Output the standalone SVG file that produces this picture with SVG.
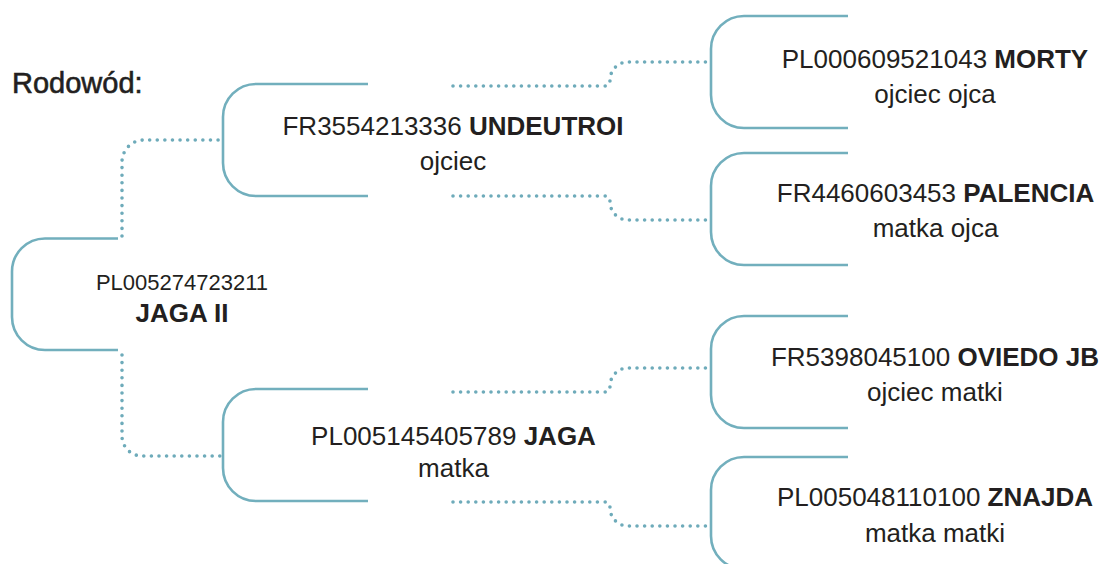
<svg xmlns="http://www.w3.org/2000/svg" width="1103" height="564" viewBox="0 0 1103 564">
<style>
.br{fill:none;stroke:#72afbd;stroke-width:2.6}
.dot{fill:none;stroke:#6eabba;stroke-width:3.6;stroke-linecap:round;stroke-dasharray:0 7.6}
text{font-family:"Liberation Sans",Arial,sans-serif;fill:#231f20;text-anchor:middle}
.t{font-size:26px}
.b{font-weight:bold}
</style>
<rect width="1103" height="564" fill="#ffffff"/>
<text x="12" y="93" style="font-size:29px;text-anchor:start;stroke:#231f20;stroke-width:0.6">Rodowód:</text>
<g id="connectors">
<path class="dot" d="M122 236 V162 A22 22 0 0 1 144 140 H221"/>
<path class="dot" d="M122 355 V436 A20 20 0 0 0 142 456 H222"/>
<path class="dot" d="M453 86 H604 Q610 86 610 80 A18 18 0 0 1 628 62 H710"/>
<path class="dot" d="M453 196 H604 Q610 196 610 202 A18 18 0 0 0 628 220 H710"/>
<path class="dot" d="M453 392 H604 Q610 392 610 386 A18 18 0 0 1 628 368 H710"/>
<path class="dot" d="M453 502 H604 Q610 502 610 508 A18 18 0 0 0 628 526 H710"/>
</g>
<g id="root">
<path class="br" d="M118 238.5 H45 A33 33 0 0 0 12 271.5 V317 A33 33 0 0 0 45 350 H118"/>
<text x="182" y="289.5" style="font-size:22px">PL005274723211</text>
<text x="182" y="322" class="b" style="font-size:26px">JAGA II</text>
</g>
<g id="father">
<path class="br" d="M368 84 H256 A33 33 0 0 0 223 117 V163 A33 33 0 0 0 256 196 H368"/>
<text x="453" y="135" class="t">FR3554213336 <tspan class="b">UNDEUTROI</tspan></text>
<text x="453" y="170" class="t">ojciec</text>
</g>
<g id="mother">
<path class="br" d="M368 389 H256 A33 33 0 0 0 223 422 V468 A33 33 0 0 0 256 501 H368"/>
<text x="453.5" y="445" class="t">PL005145405789 <tspan class="b">JAGA</tspan></text>
<text x="453.5" y="477" class="t">matka</text>
</g>
<g id="morty">
<path class="br" d="M848 16 H744 A33 33 0 0 0 711 49 V95 A33 33 0 0 0 744 128 H848"/>
<text x="935" y="67.5" class="t">PL000609521043 <tspan class="b">MORTY</tspan></text>
<text x="935" y="102.5" class="t">ojciec ojca</text>
</g>
<g id="palencia">
<path class="br" d="M848 153 H744 A33 33 0 0 0 711 186 V232 A33 33 0 0 0 744 265 H848"/>
<text x="935.5" y="201.5" class="t">FR4460603453 <tspan class="b">PALENCIA</tspan></text>
<text x="935.5" y="237" class="t">matka ojca</text>
</g>
<g id="oviedo">
<path class="br" d="M848 316 H744 A33 33 0 0 0 711 349 V395 A33 33 0 0 0 744 428 H848"/>
<text x="935" y="366" class="t">FR5398045100 <tspan class="b">OVIEDO JB</tspan></text>
<text x="935" y="401" class="t">ojciec matki</text>
</g>
<g id="znajda">
<path class="br" d="M848 457 H744 A33 33 0 0 0 711 490 V536 A33 33 0 0 0 744 569 H848"/>
<text x="935" y="506" class="t">PL005048110100 <tspan class="b">ZNAJDA</tspan></text>
<text x="935" y="541.5" class="t">matka matki</text>
</g>
</svg>
